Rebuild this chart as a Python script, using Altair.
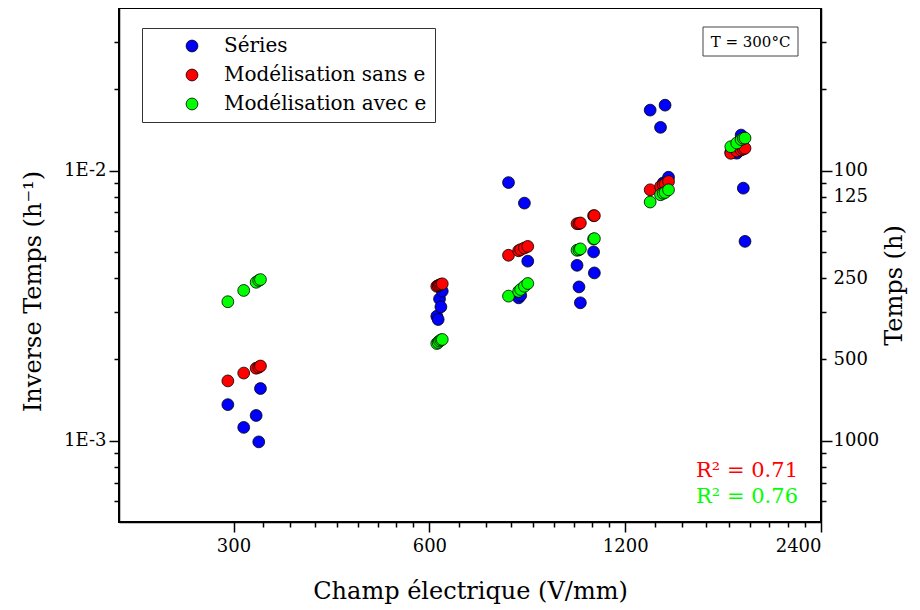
import altair as alt
import pandas as pd

FONT = "DejaVu Serif"

# Electric field (V/mm) of each sample
champ = [294, 311, 325, 328, 330,
         616, 619, 622, 625, 628,
         794, 823, 829, 840, 850,
         1012, 1019, 1024, 1073, 1076,
         1311, 1360, 1373, 1382, 1399,
         1744, 1781, 1809, 1823, 1834]

# Inverse time (1/h) : measured series
series_vals = [1.36e-3, 1.12e-3, 1.24e-3, 0.99e-3, 1.56e-3,
               2.89e-3, 2.81e-3, 3.35e-3, 3.13e-3, 3.58e-3,
               9.03e-3, 3.38e-3, 3.45e-3, 7.58e-3, 4.62e-3,
               4.46e-3, 3.71e-3, 3.24e-3, 5.00e-3, 4.18e-3,
               1.675e-2, 1.446e-2, 9.0e-3, 1.747e-2, 9.45e-3,
               1.17e-2, 1.16e-2, 1.354e-2, 8.61e-3, 5.47e-3]

# Model without e
sans_vals = [1.665e-3, 1.78e-3, 1.855e-3, 1.87e-3, 1.89e-3,
             3.73e-3, 3.75e-3, 3.77e-3, 3.79e-3, 3.81e-3,
             4.86e-3, 5.05e-3, 5.10e-3, 5.17e-3, 5.24e-3,
             6.36e-3, 6.36e-3, 6.40e-3, 6.81e-3, 6.81e-3,
             8.49e-3, 8.73e-3, 8.86e-3, 8.91e-3, 9.11e-3,
             1.159e-2, 1.182e-2, 1.192e-2, 1.202e-2, 1.21e-2]

# Model with e
avec_vals = [3.27e-3, 3.60e-3, 3.86e-3, 3.92e-3, 3.95e-3,
             2.29e-3, 2.31e-3, 2.34e-3, 2.36e-3, 2.37e-3,
             3.43e-3, 3.57e-3, 3.63e-3, 3.73e-3, 3.82e-3,
             5.07e-3, 5.09e-3, 5.13e-3, 5.58e-3, 5.60e-3,
             7.65e-3, 8.14e-3, 8.24e-3, 8.30e-3, 8.49e-3,
             1.226e-2, 1.265e-2, 1.303e-2, 1.317e-2, 1.32e-2]

series_names = ["Séries", "Modélisation sans e", "Modélisation avec e"]
series_colors = ["#0000ff", "#ff0000", "#00ff00"]

x_major = [300, 600, 1200, 2400]
x_minor = [round(b * (1 + k / 9), 3) for b in (300, 600, 1200) for k in range(1, 9)]
y_major = [0.001, 0.01]
y_minor = [0.0006, 0.0007, 0.0008, 0.0009,
           0.002, 0.003, 0.004, 0.005, 0.006, 0.007, 0.008, 0.009,
           0.02, 0.03]
right_labels = ["125", "250", "500"]

temp_label = ["T = 300°C"]
r2_labels = ["R² = 0.71", "R² = 0.76"]

rows = []
for name, vals in zip(series_names, [series_vals, sans_vals, avec_vals]):
    for f, v in zip(champ, vals):
        rows.append({"champ": f, "inv": v, "serie": name})
df = pd.DataFrame(rows)

x_scale = alt.Scale(type="log", domain=[200, 2400], nice=False)
y_scale = alt.Scale(type="log", domain=[5e-4, 4e-2], nice=False)

base = alt.Chart(df)

points = base.mark_point(filled=True, size=140, stroke="black", strokeWidth=0.8, opacity=1).encode(
    x=alt.X("champ:Q", scale=x_scale,
            axis=alt.Axis(orient="bottom", values=x_major, format="d", tickSize=10,
                          labelPadding=5, title="Champ électrique (V/mm)", titlePadding=24)),
    y=alt.Y("inv:Q", scale=y_scale,
            axis=alt.Axis(orient="left", values=y_major, tickSize=10, labelPadding=3,
                          labelExpr="datum.value == 0.01 ? '1E-2' : '1E-3'",
                          title="Inverse Temps (h⁻¹)", titlePadding=18, titleY=283)),
    color=alt.Color("serie:N", scale=alt.Scale(domain=series_names, range=series_colors),
                    legend=alt.Legend(title=None, orient="none", legendX=23, legendY=20,
                                      strokeColor="#333", fillColor="white", padding=8,
                                      symbolOffset=32, labelOffset=22, labelFont=FONT,
                                      labelFontSize=20, labelColor="black", labelLimit=500,
                                      symbolSize=140,
                                      symbolType="circle", symbolStrokeColor="black",
                                      symbolStrokeWidth=0.8, rowPadding=9, symbolOpacity=1)),
)

minor = base.mark_point(opacity=0).encode(
    x=alt.X("champ:Q", scale=x_scale,
            axis=alt.Axis(orient="bottom", values=x_minor, tickSize=5, labels=False,
                          domain=False, title="")),
    y=alt.Y("inv:Q", scale=y_scale,
            axis=alt.Axis(orient="left", values=y_minor, tickSize=5, labels=False,
                          domain=False, title="")),
)

right_major = base.mark_point(opacity=0).encode(
    x=alt.X("champ:Q", scale=x_scale, axis=None),
    y=alt.Y("inv:Q", scale=y_scale,
            axis=alt.Axis(orient="right", values=y_major, tickSize=11, labelPadding=1,
                          labelExpr="format(1/datum.value, 'd')",
                          title="Temps (h)", titleAngle=-90, titleBaseline="top",
                          titlePadding=4, titleY=277)),
)

label_list = "[" + ",".join("'%s'" % s for s in right_labels) + "]"
right_minor = base.mark_point(opacity=0).encode(
    x=alt.X("champ:Q", scale=x_scale, axis=None),
    y=alt.Y("inv:Q", scale=y_scale,
            axis=alt.Axis(orient="right", values=y_minor, tickSize=5, labelPadding=7,
                          domain=False, title="",
                          labelExpr="indexof(" + label_list + ", format(1/datum.value, 'd')) >= 0 ? format(1/datum.value, 'd') : ''")),
)

tdf = pd.DataFrame({"t": temp_label})
tbox = alt.Chart(tdf).mark_rect(fill="white", stroke="#444", strokeWidth=1).encode(
    x=alt.value(584), x2=alt.value(679), y=alt.value(19), y2=alt.value(48))
ttext = alt.Chart(tdf).mark_text(font=FONT, fontSize=15, align="center", baseline="middle",
                                 color="black").encode(
    x=alt.value(631.5), y=alt.value(34), text="t:N")

r2a = alt.Chart(pd.DataFrame({"label": [r2_labels[0]]})).mark_text(
    font=FONT, fontSize=21, align="right", baseline="middle", color="#ff0000").encode(
    x=alt.value(679), y=alt.value(463), text="label:N")
r2b = alt.Chart(pd.DataFrame({"label": [r2_labels[1]]})).mark_text(
    font=FONT, fontSize=21, align="right", baseline="middle", color="#00ff00").encode(
    x=alt.value(679), y=alt.value(489), text="label:N")

chart = alt.layer(minor, right_major, right_minor, points, tbox, ttext, r2a, r2b).resolve_axis(
    x="independent", y="independent"
).properties(
    width=702, height=514,
    autosize=alt.AutoSizeParams(type="none"),
    padding={"left": 111, "top": 0, "right": 91, "bottom": 84},
).configure_axis(
    domainColor="black", domainWidth=1.5, tickColor="black", tickWidth=1.5,
    labelFont=FONT, labelFontSize=18, labelColor="black",
    titleFont=FONT, titleFontSize=24, titleFontWeight="normal", titleColor="black",
    grid=False,
).configure_view(stroke="black", strokeWidth=2)

chart.save("out.html", embed_options={"renderer": "svg", "actions": False})
